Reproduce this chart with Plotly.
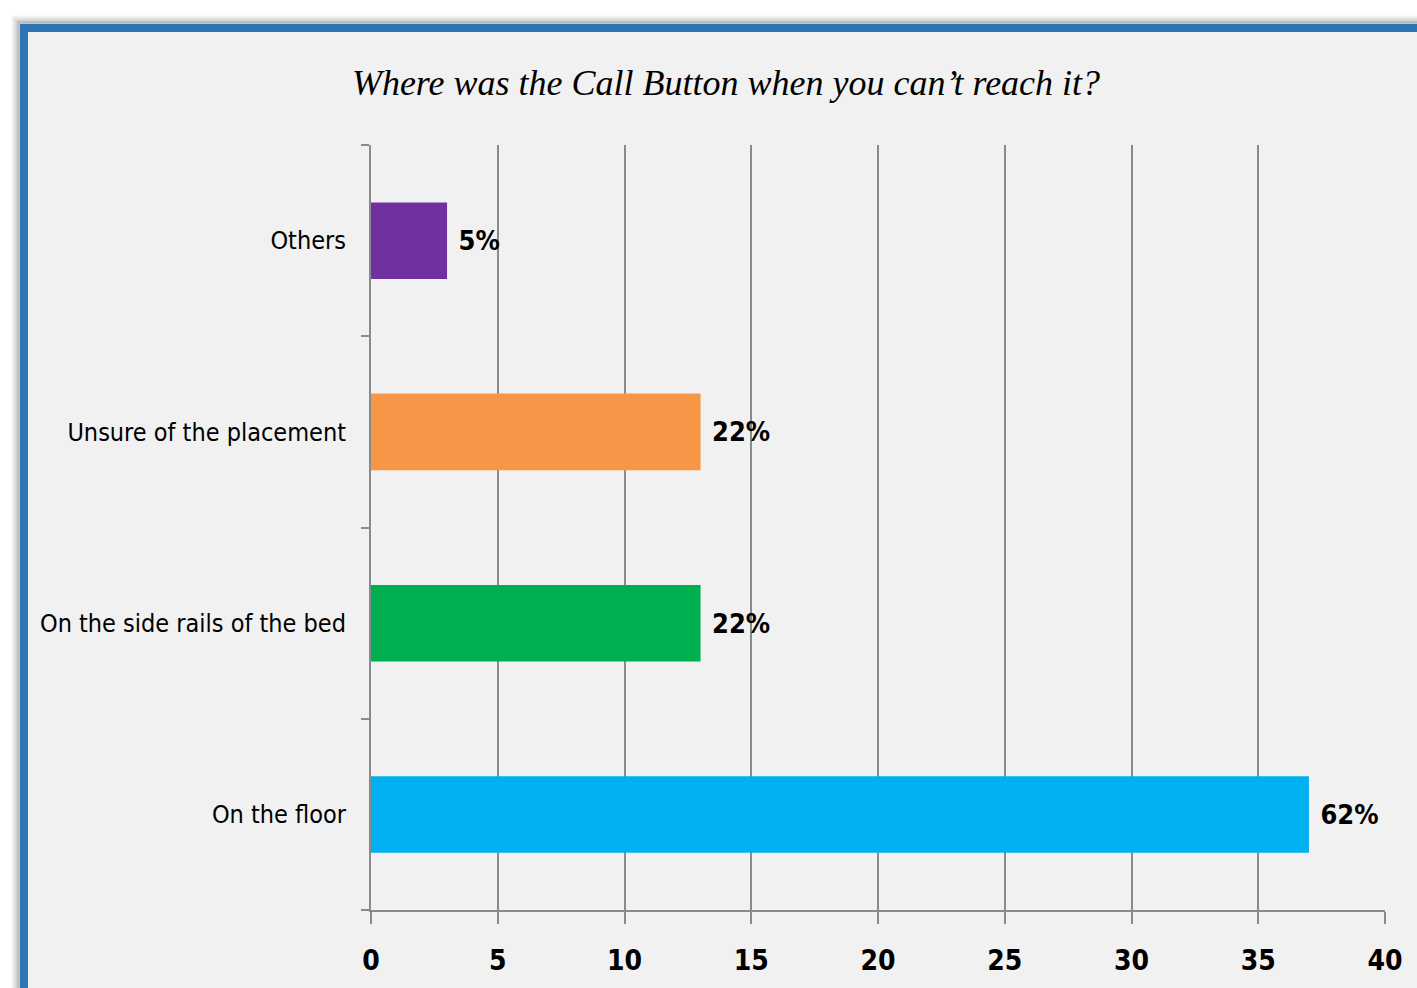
import plotly.graph_objects as go

categories = ["On the floor", "On the side rails of the bed", "Unsure of the placement", "Others"]
values = [37, 13, 13, 3]
pct_labels = ["62%", "22%", "22%", "5%"]
colors = ["#00b0f0", "#00b050", "#f79646", "#7030a0"]
x_ticks = [0, 5, 10, 15, 20, 25, 30, 35, 40]

W, H = 1417, 988
ML, MR, MT, MB = 371, 32, 145, 78
PW, PH = W - ML - MR, H - MT - MB

def px_x(p):
    return (p - ML) / PW

def px_y(p):
    return (H - MB - p) / PH

COND = "DejaVu Sans Condensed, DejaVu Sans, sans-serif"

fig = go.Figure()
fig.add_trace(go.Bar(
    y=categories, x=values, orientation="h",
    marker=dict(color=colors, line=dict(width=0)),
    text=pct_labels, textposition="outside",
    texttemplate=" %{text}",
    textfont=dict(family=COND, size=27, color="black", weight="bold"),
    cliponaxis=False, hoverinfo="skip",
))

shapes = []
# shadow
for off, col in [(11, "rgba(0,0,0,0.04)"), (9, "rgba(0,0,0,0.08)"), (7, "rgba(0,0,0,0.14)"), (5, "rgba(0,0,0,0.22)")]:
    shapes.append(dict(type="rect", xref="paper", yref="paper", layer="below",
                       x0=px_x(24 - off), x1=px_x(1440), y0=px_y(1010), y1=px_y(28 - off),
                       line=dict(width=3, color=col), fillcolor="rgba(0,0,0,0)"))
shapes.append(dict(type="rect", xref="paper", yref="paper", layer="below",
                   x0=px_x(24), x1=px_x(1440), y0=px_y(1010), y1=px_y(28),
                   line=dict(width=8, color="#2e75b6"), fillcolor="#f1f1f1"))

fig.update_layout(
    width=W, height=H,
    margin=dict(l=ML, r=MR, t=MT, b=MB),
    paper_bgcolor="white", plot_bgcolor="rgba(0,0,0,0)",
    showlegend=False, bargap=0.6,
    shapes=shapes,
    title=dict(text="Where was the Call Button when you can’t reach it?",
               font=dict(family="Liberation Serif, serif", size=36, color="black", style="italic"),
               x=726 / W, xref="container", xanchor="center", y=1 - 82 / H, yanchor="middle"),
    xaxis=dict(range=[0, 40], tickvals=x_ticks, showgrid=True, gridcolor="#8a8a8a", gridwidth=1.5,
               showline=True, linecolor="#8a8a8a", linewidth=2, ticks="outside", ticklen=12,
               tickwidth=2, tickcolor="#8a8a8a", zeroline=False, ticklabelstandoff=12,
               tickfont=dict(family=COND, size=28, color="black", weight="bold")),
    yaxis=dict(type="category", categoryorder="array", categoryarray=categories,
               showgrid=False, showline=True, linecolor="#8a8a8a", linewidth=2,
               ticks="outside", ticklen=8, tickwidth=2, tickcolor="#8a8a8a",
               tickson="boundaries", ticklabelstandoff=18,
               tickfont=dict(family=COND, size=25, color="black")),
)

fig.write_html("out.html")
